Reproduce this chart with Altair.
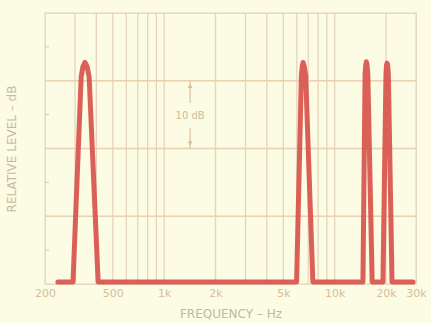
import altair as alt
import pandas as pd

# Spectrum trace (frequency in Hz, relative level in dB above the floor)
freq = [238, 292, 326, 334, 343, 353, 363, 410,
        5980, 6380, 6460, 6530, 6620, 6760, 7450,
        14650, 15080, 15230, 15350, 15480, 15650, 16600,
        19200, 20000, 20150, 20300, 20450, 20650, 21700, 28800]
level = [0.3, 0.3, 30.6, 32.1, 32.7, 32.1, 30.6, 0.3,
         0.3, 30.8, 32.2, 32.7, 32.2, 30.8, 0.3,
         0.3, 31.0, 32.4, 32.8, 32.4, 31.0, 0.3,
         0.3, 31.0, 32.3, 32.6, 32.3, 31.0, 0.3, 0.3]

# Grid of the log paper
grid_freqs = [300, 400, 500, 600, 700, 800, 900, 1000,
              2000, 3000, 4000, 5000, 6000, 7000, 8000, 9000,
              10000, 20000]
grid_levels = [10, 20, 30]
minor_levels = [5, 15, 25, 35]
label_freqs = [200, 500, 1000, 2000, 5000, 10000, 20000, 30000]

# "10 dB" scale marker
marker_freq = [1420]
marker_text = ["10 dB"]
marker_text_level = [24.8]
up_arrow = [26.7, 30.0]
down_arrow = [23.0, 20.0]

trace = pd.DataFrame({"freq": freq, "level": level})
vgrid = pd.DataFrame({"freq": grid_freqs})
hgrid = pd.DataFrame({"level": grid_levels})
minor = pd.DataFrame({"level": minor_levels})
mk = pd.DataFrame({"freq": marker_freq, "text": marker_text, "level": marker_text_level})
up = pd.DataFrame({"freq": marker_freq, "y1": [up_arrow[0]], "y2": [up_arrow[1]]})
down = pd.DataFrame({"freq": marker_freq, "y1": [down_arrow[0]], "y2": [down_arrow[1]]})

xscale = alt.Scale(type="log", domain=[200, 30000], nice=False)
yscale = alt.Scale(domain=[0, 40], nice=False)

grid_col = "#E6D4BC"
tan = "#D8BE98"

vlines = alt.Chart(vgrid).mark_rule(color=grid_col, strokeWidth=1.3).encode(
    x=alt.X("freq:Q", scale=xscale,
            axis=alt.Axis(values=label_freqs, title="FREQUENCY – Hz",
                          labelExpr="datum.value >= 1000 ? (datum.value/1000) + 'k' : datum.value",
                          grid=False, ticks=False, domain=False,
                          labelColor=tan, labelFontSize=11, labelFont="DejaVu Sans",
                          labelPadding=3, labelOverlap=False, labelFlush=False,
                          titleColor="#B5BDA5", titleFontSize=12, titleFont="DejaVu Sans",
                          titleFontWeight="normal", titlePadding=10)),
)

hlines = alt.Chart(hgrid).mark_rule(color="#E8D0B0", strokeWidth=1.3).encode(
    y=alt.Y("level:Q", scale=yscale,
            axis=alt.Axis(title="RELATIVE LEVEL – dB", labels=False, ticks=False,
                          grid=False, domain=False,
                          titleColor="#C4BAA2", titleFontSize=12, titleFont="DejaVu Sans",
                          titleFontWeight="normal", titlePadding=27)),
)

minor_ticks = alt.Chart(minor).mark_rule(color="#DCC8B0", strokeWidth=1).encode(
    y=alt.Y("level:Q", scale=yscale),
    x=alt.value(0), x2=alt.value(4),
)

line = alt.Chart(trace).mark_line(color="#D8524C", strokeWidth=5,
                                  strokeJoin="round", strokeCap="round", opacity=0.92).encode(
    x=alt.X("freq:Q", scale=xscale),
    y=alt.Y("level:Q", scale=yscale),
)

text = alt.Chart(mk).mark_text(color="#CDBB9C", fontSize=10, font="DejaVu Sans").encode(
    x=alt.X("freq:Q", scale=xscale),
    y=alt.Y("level:Q", scale=yscale),
    text="text:N",
)

up_rule = alt.Chart(up).mark_rule(color="#D6C2A2", strokeWidth=1.2).encode(
    x=alt.X("freq:Q", scale=xscale),
    y=alt.Y("y1:Q", scale=yscale), y2="y2:Q",
)
down_rule = alt.Chart(down).mark_rule(color="#D6C2A2", strokeWidth=1.2).encode(
    x=alt.X("freq:Q", scale=xscale),
    y=alt.Y("y1:Q", scale=yscale), y2="y2:Q",
)
up_head = alt.Chart(up).mark_point(shape="triangle-up", filled=True, color="#D6C2A2",
                                   size=25, opacity=1, yOffset=5).encode(
    x=alt.X("freq:Q", scale=xscale),
    y=alt.Y("y2:Q", scale=yscale),
)
down_head = alt.Chart(down).mark_point(shape="triangle-down", filled=True, color="#D6C2A2",
                                       size=25, opacity=1, yOffset=-5).encode(
    x=alt.X("freq:Q", scale=xscale),
    y=alt.Y("y2:Q", scale=yscale),
)

chart = alt.layer(vlines, hlines, minor_ticks, up_rule, down_rule, up_head, down_head,
                  text, line).properties(
    width=371, height=271,
    autosize=alt.AutoSizeParams(type="none"),
    padding={"left": 45, "top": 13, "right": 15, "bottom": 39},
    background="#FCFBE3",
).configure_view(stroke="#E0D4B8", strokeWidth=1.3, fill="#FCFBE3")

chart.save("out.html", embed_options={"renderer": "svg", "actions": False})
